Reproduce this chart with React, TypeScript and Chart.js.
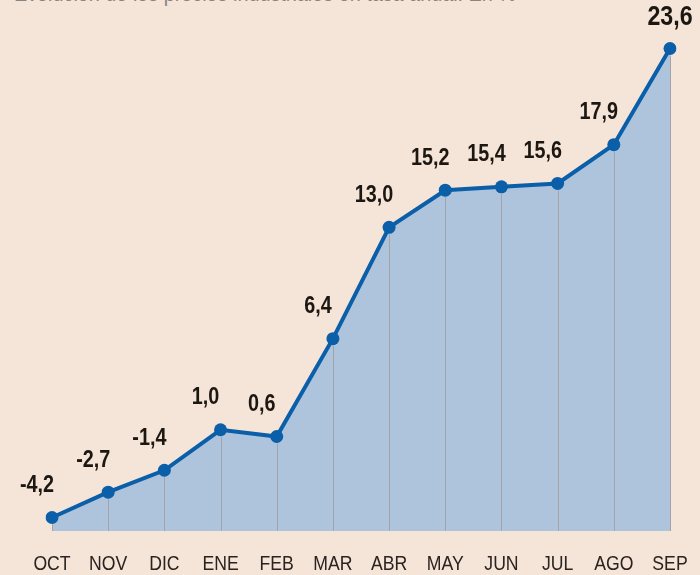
import React, { useEffect, useRef } from "react";
import { Chart, registerables } from "chart.js";

Chart.register(...registerables);

const categories = ["OCT", "NOV", "DIC", "ENE", "FEB", "MAR", "ABR", "MAY", "JUN", "JUL", "AGO", "SEP"];
const values = [-4.2, -2.7, -1.4, 1.0, 0.6, 6.4, 13.0, 15.2, 15.4, 15.6, 17.9, 23.6];
const valueLabels = ["-4,2", "-2,7", "-1,4", "1,0", "0,6", "6,4", "13,0", "15,2", "15,4", "15,6", "17,9", "23,6"];
const title = "Evolución de los precios industriales en tasa anual. En %";

const BG = "#f5e5d8";
const LINE = "#0b5fa8";
const FILL = "#aec3dc";
const TEXT = "#1d1712";
const FONT = "'Liberation Sans', Arial, sans-serif";

function drawNarrow(ctx: any, text: string, x: number, y: number, sx: number) {
  ctx.save();
  ctx.translate(x, y);
  ctx.scale(sx, 1);
  ctx.fillText(text, 0, 0);
  ctx.restore();
}

const decorPlugin = {
  id: "decor",
  afterDatasetsDraw(chart: any) {
    const { ctx, chartArea } = chart;
    const meta = chart.getDatasetMeta(0);
    ctx.save();
    ctx.strokeStyle = "#a3a3a8";
    ctx.lineWidth = 1;
    meta.data.forEach((pt: any) => {
      const x = Math.round(pt.x) + 0.5;
      ctx.beginPath();
      ctx.moveTo(x, pt.y + 7);
      ctx.lineTo(x, chartArea.bottom);
      ctx.stroke();
    });
    ctx.textAlign = "center";
    ctx.textBaseline = "middle";
    meta.data.forEach((pt: any, i: number) => {
      const last = i === meta.data.length - 1;
      ctx.fillStyle = TEXT;
      ctx.font = `bold ${last ? 27 : 23}px ${FONT}`;
      const dx = last ? 0 : -15;
      const dy = last ? -31 : -32;
      drawNarrow(ctx, valueLabels[i], pt.x + dx, pt.y + dy, 0.86);
      ctx.fillStyle = "#2a231f";
      ctx.font = `21px ${FONT}`;
      drawNarrow(ctx, categories[i], pt.x, chartArea.bottom + 33, 0.84);
    });
    ctx.restore();
  },
};

export default function App() {
  const ref = useRef<HTMLCanvasElement | null>(null);

  useEffect(() => {
    document.body.style.margin = "0";
    document.body.style.background = BG;
    const canvas = ref.current;
    if (!canvas) return;
    const chart = new Chart(canvas, {
      type: "line",
      data: {
        labels: categories,
        datasets: [
          {
            data: values,
            borderColor: LINE,
            borderWidth: 4,
            backgroundColor: FILL,
            fill: "start",
            tension: 0,
            pointRadius: 6.5,
            pointBackgroundColor: LINE,
            pointBorderWidth: 0,
          },
        ],
      },
      options: {
        responsive: false,
        animation: false,
        layout: { padding: { left: 52, right: 30, top: 8, bottom: 44 } },
        plugins: { legend: { display: false }, tooltip: { enabled: false } },
        scales: {
          x: { display: false, offset: false },
          y: { display: false, min: -5, max: 26 },
        },
      },
      plugins: [decorPlugin],
    });
    return () => chart.destroy();
  }, []);

  return (
    <div style={{ position: "relative", width: 700, height: 575, background: BG, overflow: "hidden" }}>
      <div
        style={{
          position: "absolute",
          top: -19,
          left: 14,
          fontFamily: FONT,
          fontSize: 22,
          color: "#8a8480",
          whiteSpace: "nowrap",
          transform: "scaleX(0.9)",
          transformOrigin: "left top",
        }}
      >
        {title}
      </div>
      <canvas ref={ref} width={700} height={575} style={{ position: "absolute", left: 0, top: 0, width: 700, height: 575 }} />
    </div>
  );
}
